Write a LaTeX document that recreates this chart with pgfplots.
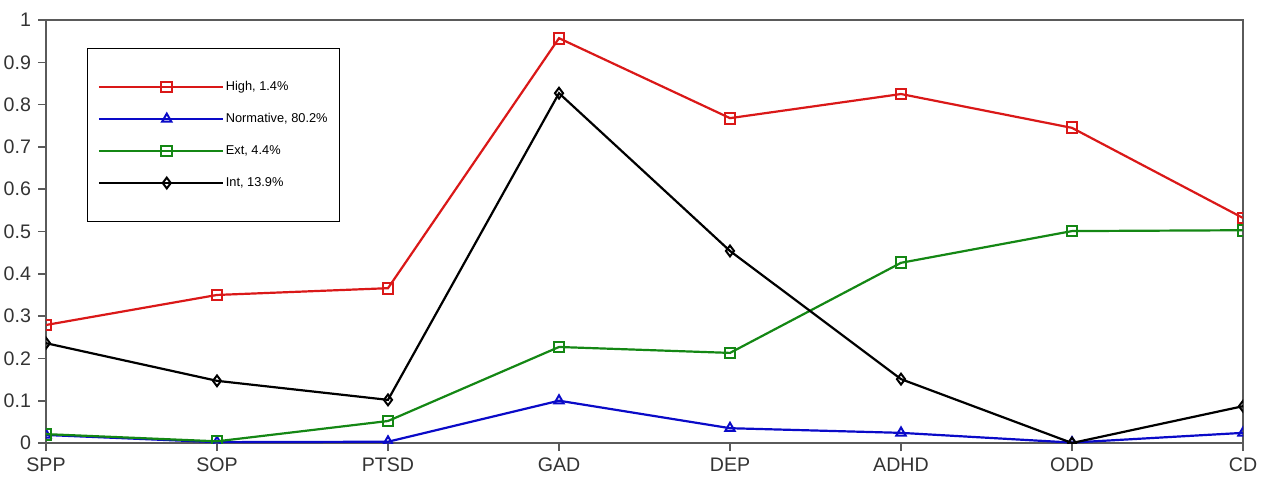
\documentclass[border=0pt]{standalone}
\usepackage{pgfplots}
\pgfplotsset{compat=1.18}
\usepackage{fontspec}
\setmainfont{Liberation Sans}
\definecolor{cRed}{RGB}{218,24,24}
\definecolor{cBlue}{RGB}{10,10,200}
\definecolor{cGreen}{RGB}{20,135,20}
\definecolor{cAxis}{RGB}{90,90,90}
\begin{document}
\begin{tikzpicture}
\begin{axis}[
  at={(0,0)}, anchor=south west,
  scale only axis,
  width=598.5pt, height=211.5pt,
  xmin=0, xmax=7, ymin=0, ymax=1,
  xtick={0,...,7},
  xticklabels={SPP,SOP,PTSD,GAD,DEP,ADHD,ODD,CD},
  ytick={0,0.1,...,1},
  yticklabels={0,0.1,0.2,0.3,0.4,0.5,0.6,0.7,0.8,0.9,1},
  tick align=outside,
  tick pos=left,
  major tick length=4pt,
  axis line style={cAxis, line width=0.8pt},
  every tick/.style={cAxis, line width=0.8pt},
  tick label style={font=\fontsize{9.8}{12}\selectfont, text=black!80},
  /pgf/number format/assume math mode=true,
  clip marker paths=true,
  legend cell align=left,
  legend style={
    at={(0.0343,0.934)}, anchor=north west,
    draw=black, line width=0.6pt,
    font=\fontsize{6.4}{7.5}\selectfont,
    inner xsep=5pt, inner ysep=15pt,
    row sep=7.5pt,
    nodes={inner sep=1pt, text height=5pt, text depth=1.5pt},
  },
  legend image code/.code={
    \path (0pt,0pt) -- (6pt,0pt);
    \draw[mark repeat=2, mark phase=2] plot coordinates {(6pt,0pt) (34pt,0pt) (62pt,0pt)};
  },
]
\addplot[cRed, line width=1.1pt, mark=square, mark size=2.7pt, mark options={solid, fill=white, line width=1pt}]
coordinates {(0,0.279) (1,0.350) (2,0.366) (3,0.957) (4,0.768) (5,0.825) (6,0.745) (7,0.532)};
\addlegendentry{High, 1.4\%}
\addplot[cBlue, line width=1.1pt, mark=triangle, mark size=2.7pt, mark options={solid, fill=white, line width=1pt}]
coordinates {(0,0.019) (1,0.002) (2,0.003) (3,0.100) (4,0.035) (5,0.024) (6,0.001) (7,0.024)};
\addlegendentry{Normative, 80.2\%}
\addplot[cGreen, line width=1.1pt, mark=square, mark size=2.7pt, mark options={solid, fill=white, line width=1pt}]
coordinates {(0,0.021) (1,0.004) (2,0.052) (3,0.227) (4,0.213) (5,0.426) (6,0.501) (7,0.503)};
\addlegendentry{Ext, 4.4\%}
\addplot[black, line width=1.1pt, mark=diamond, mark size=2.7pt, mark options={solid, fill=white, line width=1pt}]
coordinates {(0,0.236) (1,0.147) (2,0.102) (3,0.827) (4,0.454) (5,0.151) (6,0.000) (7,0.087)};
\addlegendentry{Int, 13.9\%}
\end{axis}
\pgfresetboundingbox
\path (-23pt,-17.5pt) rectangle (611pt,221.5pt);
\end{tikzpicture}
\end{document}
